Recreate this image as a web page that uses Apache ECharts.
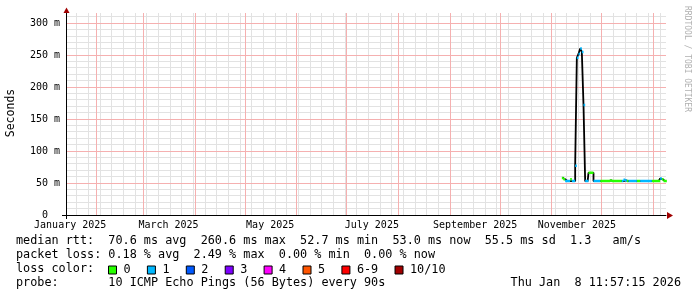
<!DOCTYPE html>
<html><head><meta charset="utf-8">
<script src="https://cdn.jsdelivr.net/npm/echarts@6/dist/echarts.min.js"></script>
<style>html,body{margin:0;padding:0;background:#fff}#c{width:697px;height:297px}</style>
</head><body><div id="c"></div>
<script>
// ---- data ----
const dates = [
 '2025-11-07','2025-11-08','2025-11-09','2025-11-10','2025-11-11','2025-11-12','2025-11-13','2025-11-14',
 '2025-11-15','2025-11-16','2025-11-17','2025-11-18','2025-11-19','2025-11-20','2025-11-21','2025-11-22',
 '2025-11-23','2025-11-24','2025-11-25','2025-11-26','2025-11-27','2025-11-28','2025-11-29','2025-11-30',
 '2025-12-01','2025-12-02','2025-12-03','2025-12-04','2025-12-05','2025-12-06','2025-12-07','2025-12-08',
 '2025-12-09','2025-12-10','2025-12-11','2025-12-12','2025-12-13','2025-12-14','2025-12-15','2025-12-16',
 '2025-12-17','2025-12-18','2025-12-19','2025-12-20','2025-12-21','2025-12-22','2025-12-23','2025-12-24',
 '2025-12-25','2025-12-26','2025-12-27','2025-12-28','2025-12-29','2025-12-30','2025-12-31','2026-01-01',
 '2026-01-02','2026-01-03','2026-01-04','2026-01-05','2026-01-06','2026-01-07','2026-01-08'];
const medianMs = [
 58,56,53,53,53,56,53,53,
 77,246,252,260.6,255,172,53,53,
 66,66,66,53,53,53,53,53,
 53,53,53,53,53,54,53,53,
 53,53,53,53,53,55,54,53,
 53,53,53,53,53,53,53,53,
 53,53,53,53,53,53,53,53,
 53,53,53,57,56,53,53];
const lossBucket = [
 0,0,1,1,1,0,1,1,
 1,1,1,1,1,1,1,1,
 0,0,0,1,1,1,1,0,
 0,0,0,0,0,0,0,0,
 0,0,0,0,1,1,1,0,
 1,1,1,1,1,0,0,1,
 1,1,1,1,1,1,0,0,
 0,0,0,1,0,0,0];
const lossNames = ['0','1','2','3','4','5','6-9','10/10'];
const lossColors = ['#26ff00','#00b8ff','#0059ff','#7e00ff','#ff00ff','#ff5500','#ff0000','#a10000'];
const xLabelDates = ['2025-01-16','2025-03-16','2025-05-16','2025-07-16','2025-09-16','2025-11-16'];
const xLabels = ['January 2025','March 2025','May 2025','July 2025','September 2025','November 2025'];
const yTicks = [0,50,100,150,200,250,300];
const yLabels = ['0  ','50 m','100 m','150 m','200 m','250 m','300 m'];
const statsRtt = 'median rtt:  70.6 ms avg  260.6 ms max  52.7 ms min  53.0 ms now  55.5 ms sd  1.3   am/s';
const statsLoss = 'packet loss: 0.18 % avg  2.49 % max  0.00 % min  0.00 % now';
const probeText = 'probe:       10 ICMP Echo Pings (56 Bytes) every 90s';
const stampText = 'Thu Jan  8 11:57:15 2026';

// ---- helpers ----
const DAY = 86400000;
const tEnd = Date.UTC(2026,0,8,11,57,15);
const tStart = tEnd - 360*DAY;
const ts = s => { const p = s.split('-').map(Number); return Date.UTC(p[0], p[1]-1, p[2]); };
const pts = dates.map((d,i)=>[ts(d)+DAY/2, medianMs[i]]);
const monthStarts = []; for (let m = 1; m <= 12; m++) monthStarts.push(Date.UTC(2025, m, 1));
const mondays = []; for (let t = Date.UTC(2025,0,20); t < tEnd; t += 7*DAY) if (monthStarts.indexOf(t) < 0) mondays.push(t);
const yMinor = []; for (let v = 10; v <= 310; v += 10) if (v % 50 !== 0) yMinor.push(v);
const yMajor = [50,100,150,200,250,300];
const FONT = 'DejaVu Sans Mono';
const GRID_C = '#e2e2e2', MGRID_C = '#f5b0b0';
const G = {left:66, right:31, top:13, bottom:82};

const bucketSeries = lossNames.map((name,k)=>{
  const data = [];
  pts.forEach((p,i)=>{
    if (lossBucket[i] !== k) return;
    data.push([p[0]-DAY/2, p[1]], [p[0]+DAY/2, p[1]], [p[0]+DAY/2, '-']);
  });
  return {name, type:'line', data, symbol:'none', color:lossColors[k],
    lineStyle:{width:2.5, color:lossColors[k], cap:'butt'}, z:6, animation:false, silent:true, connectNulls:false};
});

const staticGraphic = [
  {type:'polygon', shape:{points:[[63.5,13],[66.5,7.5],[69.5,13]]}, style:{fill:'#a00000'}, z:10},
  {type:'polygon', shape:{points:[[667,212],[673,215.5],[667,219]]}, style:{fill:'#a00000'}, z:10},
  {type:'rect', shape:{x:62, y:215, width:4, height:1}, style:{fill:'#000'}, z:10},
  {type:'rect', shape:{x:66, y:215, width:1, height:4}, style:{fill:'#000'}, z:10},
  {type:'text', x:11, y:113, rotation:Math.PI/2, style:{text:'Seconds', font:'11.5px "DejaVu Sans Mono"', fill:'#000', align:'center', verticalAlign:'middle'}},
  {type:'text', x:687, y:59, rotation:-Math.PI/2, style:{text:'RRDTOOL / TOBI OETIKER', font:'8px "DejaVu Sans Mono"', fill:'#b0b0b0', align:'center', verticalAlign:'middle'}},
  {type:'text', x:16, y:241, style:{text:statsRtt, font:'11.8px "DejaVu Sans Mono"', fill:'#000', verticalAlign:'middle'}},
  {type:'text', x:16, y:255, style:{text:statsLoss, font:'11.8px "DejaVu Sans Mono"', fill:'#000', verticalAlign:'middle'}},
  {type:'text', x:16, y:269, style:{text:'loss color:', font:'11.8px "DejaVu Sans Mono"', fill:'#000', verticalAlign:'middle'}},
  {type:'text', x:16, y:283, style:{text:probeText, font:'11.8px "DejaVu Sans Mono"', fill:'#000', verticalAlign:'middle'}},
  {type:'text', x:681, y:283, style:{text:stampText, font:'11.8px "DejaVu Sans Mono"', fill:'#000', align:'right', verticalAlign:'middle'}}
];

const chart = echarts.init(document.getElementById('c'), null, {renderer:'canvas'});
chart.setOption({
  backgroundColor:'#ffffff',
  animation:false,
  grid:Object.assign({containLabel:false}, G),
  xAxis:{type:'value', min:tStart, max:tEnd, z:3,
    axisLine:{show:true, lineStyle:{color:'#000', width:1}},
    axisTick:{show:false}, splitLine:{show:false},
    axisLabel:{show:true, customValues:xLabelDates.map(ts), margin:5, color:'#000', fontFamily:FONT, fontSize:10,
      formatter:(v)=>{ const i = xLabelDates.map(ts).indexOf(v); return i>=0 ? xLabels[i] : ''; }}},
  yAxis:{type:'value', min:0, max:316, interval:50, z:3,
    axisLine:{show:true, lineStyle:{color:'#000', width:1}},
    axisTick:{show:false}, splitLine:{show:false},
    axisLabel:{margin:6, color:'#000', fontFamily:FONT, fontSize:10,
      formatter:(v)=>{ const i = yTicks.indexOf(v); return i>=0 ? yLabels[i] : ''; }}},
  legend:{data:lossNames, left:108, top:264, icon:'rect', itemWidth:8, itemHeight:8, itemGap:16.3, padding:0,
    selectedMode:false, itemStyle:{borderColor:'#000', borderWidth:1},
    textStyle:{fontFamily:FONT, fontSize:11.8, color:'#000', padding:[0,0,0,2]}},
  series:[
    {name:'median', type:'line', data:pts, step:'middle', symbol:'none', z:5, animation:false, silent:true,
      color:'#000', lineStyle:{width:1.8, color:'#000'}}
  ].concat(bucketSeries),
  graphic:staticGraphic
});

// grid lines placed through the chart's own scales (filled 1px rects)
const W = 697 - G.left - G.right, H = 297 - G.top - G.bottom;
const gridEls = [];
const vLine = (t, c, z) => { const x = Math.floor(chart.convertToPixel({xAxisIndex:0}, t));
  gridEls.push({type:'rect', silent:true, z, shape:{x, y:G.top, width:1, height:H}, style:{fill:c}}); };
const hLine = (v, c, z) => { const y = Math.floor(chart.convertToPixel({yAxisIndex:0}, v));
  gridEls.push({type:'rect', silent:true, z, shape:{x:G.left, y, width:W, height:1}, style:{fill:c}}); };
yMinor.forEach(v => hLine(v, GRID_C, 0));
mondays.forEach(t => vLine(t, GRID_C, 0));
yMajor.forEach(v => hLine(v, MGRID_C, 1));
monthStarts.forEach(t => vLine(t, MGRID_C, 1));
chart.setOption({graphic: gridEls.concat(staticGraphic)}, {replaceMerge:['graphic']});
</script></body></html>
